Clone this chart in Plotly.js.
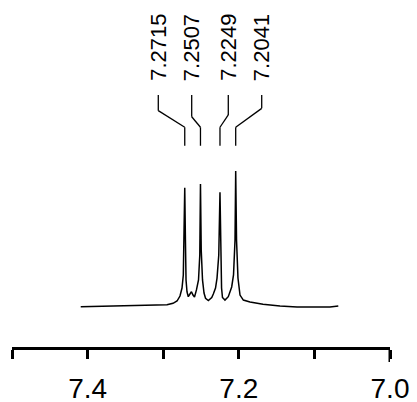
<!DOCTYPE html>
<html>
<head>
<meta charset="utf-8">
<script src="https://cdn.plot.ly/plotly-3.0.1.min.js"></script>
<style>html,body{margin:0;padding:0;background:#fff;}#chart{width:417px;height:402px;}</style>
</head>
<body>
<div id="chart"></div>
<script>
// Spectrum trace (chemical shift in ppm, relative intensity)
var shiftPpm = [7.4091, 7.3796, 7.3347, 7.3175, 7.2950, 7.2870, 7.2817, 7.2778, 7.2751, 7.2734, 7.2725,
  7.2715, 7.2706, 7.2698, 7.2685, 7.2668, 7.2646, 7.2626, 7.2606, 7.2586, 7.2560, 7.2533, 7.2516,
  7.2507, 7.2497, 7.2480, 7.2460, 7.2440, 7.2403, 7.2358, 7.2337, 7.2308, 7.2288, 7.2265,
  7.2249, 7.2239, 7.2228, 7.2216, 7.2183, 7.2139, 7.2094, 7.2070, 7.2050,
  7.2041, 7.2030, 7.2011, 7.1984, 7.1940, 7.1852, 7.1680, 7.1455, 7.1230, 7.0966, 7.0794, 7.0684];
var intensity = [-0.005, -0.002, 0.002, 0.005, 0.010, 0.020, 0.037, 0.074, 0.133, 0.230, 0.489,
  0.876, 0.489, 0.193, 0.104, 0.069, 0.089, 0.106, 0.081, 0.067, 0.119, 0.193, 0.378,
  0.904, 0.415, 0.193, 0.096, 0.057, 0.041, 0.063, 0.089, 0.133, 0.207, 0.378,
  0.842, 0.378, 0.133, 0.063, 0.044, 0.069, 0.141, 0.230, 0.489,
  1.000, 0.489, 0.207, 0.081, 0.044, 0.030, 0.013, 0.000, -0.007, -0.010, -0.007, 0.000];

// Peak picks
var peakPpm = [7.2715, 7.2507, 7.2249, 7.2041];
var peakLabels = ['7.2715', '7.2507', '7.2249', '7.2041'];
var labelPpm = [7.3065, 7.2623, 7.2139, 7.1697];

// Axis ticks
var tickVals = [7.5, 7.4, 7.3, 7.2, 7.1, 7.0];
var tickText = ['', '7.4', '', '7.2', '', '7.0'];

// connector geometry (in intensity units)
var labelY = 1.915;
var connTop = 1.563;
var connBend = [1.447, 1.402, 1.415, 1.464];
var connKnee = 1.324;
var connBottom = 1.187;

var shapes = [];
var annotations = [];
for (var i = 0; i < peakPpm.length; i++) {
  var ln = {color: '#000', width: 1.3};
  shapes.push({type: 'line', xref: 'x', yref: 'y', x0: labelPpm[i], x1: labelPpm[i], y0: connTop, y1: connBend[i], line: ln});
  shapes.push({type: 'line', xref: 'x', yref: 'y', x0: labelPpm[i], x1: peakPpm[i], y0: connBend[i], y1: connKnee, line: ln});
  shapes.push({type: 'line', xref: 'x', yref: 'y', x0: peakPpm[i], x1: peakPpm[i], y0: connKnee, y1: connBottom, line: ln});
  annotations.push({x: labelPpm[i], y: labelY, xref: 'x', yref: 'y', text: peakLabels[i], showarrow: false,
    textangle: -90, xanchor: 'center', yanchor: 'middle',
    font: {family: 'Liberation Sans, Arial, sans-serif', size: 22, color: '#000'}});
}
// longer end tick at the right end of the axis
shapes.push({type: 'line', xref: 'x', yref: 'paper', x0: tickVals[5], x1: tickVals[5], y0: 0, y1: -0.043,
  line: {color: '#000', width: 3}});

var trace = {x: shiftPpm, y: intensity, type: 'scatter', mode: 'lines',
  line: {color: '#000', width: 1.5}, hoverinfo: 'skip'};

var layout = {
  width: 417, height: 402,
  margin: {l: 12, r: 27, t: 0, b: 55},
  paper_bgcolor: '#fff', plot_bgcolor: '#fff',
  showlegend: false,
  xaxis: {range: [7.5, 7.0], tickvals: tickVals, ticktext: tickText, ticks: 'outside',
    ticklen: 9, tickwidth: 3, tickcolor: '#000', showline: true, linewidth: 3, linecolor: '#000',
    showgrid: false, zeroline: false, ticklabelstandoff: 5,
    tickfont: {family: 'Liberation Sans, Arial, sans-serif', size: 28, color: '#000'}},
  yaxis: {range: [-0.3037, 2.2667], visible: false, showgrid: false, zeroline: false},
  shapes: shapes,
  annotations: annotations
};

Plotly.newPlot('chart', [trace], layout, {staticPlot: true, displayModeBar: false});
</script>
</body>
</html>
